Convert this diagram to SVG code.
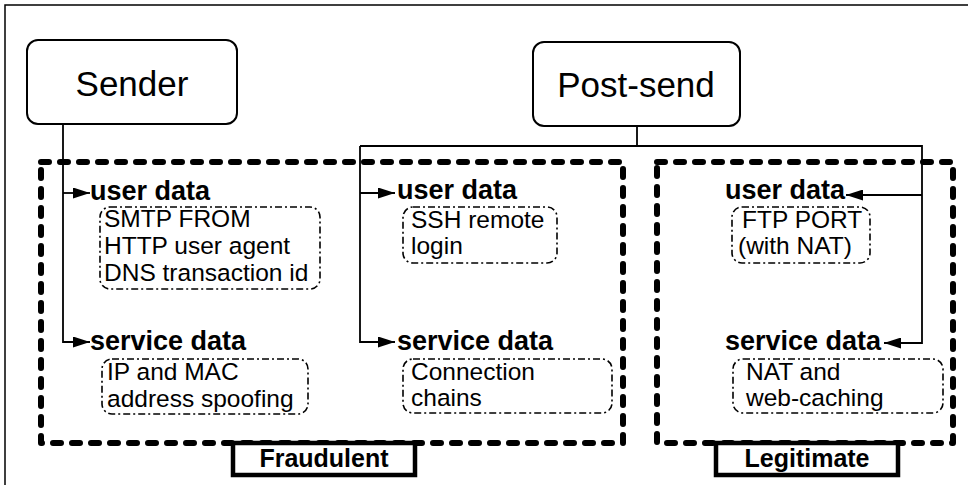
<svg xmlns="http://www.w3.org/2000/svg" width="968" height="485" viewBox="0 0 968 485">
<style>
text{font-family:"Liberation Sans",Arial,sans-serif;fill:#000}
.big{font-size:35px}
.head{font-size:27px;font-weight:bold}
.item{font-size:24.5px}
.lab{font-size:25px;font-weight:bold}
.node{fill:#fff;stroke:#000;stroke-width:2}
.grp{fill:none;stroke:#000;stroke-width:6;stroke-dasharray:8 11;stroke-linecap:round;stroke-linejoin:round}
.sub{fill:none;stroke:#000;stroke-width:1.6;stroke-dasharray:7 3 2 3}
.labbox{fill:#fff;stroke:#000;stroke-width:4.5}
.conn{fill:none;stroke:#000;stroke-width:1.8}
</style>
<defs>
<marker id="ah" viewBox="0 0 17 11" refX="17" refY="5.5" markerWidth="17" markerHeight="11" markerUnits="userSpaceOnUse" orient="auto">
<path d="M0,0 L17,5.5 L0,11 Z" fill="#000"/>
</marker>
</defs>
<rect width="968" height="485" fill="#fff"/>
<path d="M5,485 V5 H968" fill="none" stroke="#000" stroke-width="1.5"/>

<g id="fraudulent-group">
<rect class="grp" x="41" y="162" width="582" height="281"/>
</g>
<g id="legitimate-group">
<rect class="grp" x="657" y="162" width="296" height="281"/>
</g>

<g id="connectors">
<path class="conn" d="M63,124 V342 H90" marker-end="url(#ah)"/>
<path class="conn" d="M63,193 H90" marker-end="url(#ah)"/>
<path class="conn" d="M637,126 V146"/>
<path class="conn" d="M360,146 H922 V343 H884" marker-end="url(#ah)"/>
<path class="conn" d="M360,146 V342 H395" marker-end="url(#ah)"/>
<path class="conn" d="M360,193 H395" marker-end="url(#ah)"/>
<path class="conn" d="M922,195 H846" marker-end="url(#ah)"/>
</g>

<g id="sender">
<rect class="node" x="27" y="40" width="210" height="84" rx="11"/>
<text class="big" x="132" y="96" text-anchor="middle">Sender</text>
</g>
<g id="post-send">
<rect class="node" x="533" y="42" width="207" height="84" rx="11"/>
<text class="big" x="636" y="97" text-anchor="middle">Post-send</text>
</g>

<g id="fraud-user">
<text class="head" x="90" y="200">user data</text>
<rect class="sub" x="100" y="207" width="220" height="82" rx="10"/>
<text class="item" x="104" y="227">SMTP FROM</text>
<text class="item" x="104" y="254">HTTP user agent</text>
<text class="item" x="104" y="281">DNS transaction id</text>
</g>
<g id="fraud-service">
<text class="head" x="90" y="350">service data</text>
<rect class="sub" x="102" y="359" width="206" height="55" rx="10"/>
<text class="item" x="107" y="380">IP and MAC</text>
<text class="item" x="107" y="407">address spoofing</text>
</g>
<g id="post-user">
<text class="head" x="397" y="199">user data</text>
<rect class="sub" x="403" y="207" width="154" height="56" rx="10"/>
<text class="item" x="411" y="228">SSH remote</text>
<text class="item" x="411" y="254">login</text>
</g>
<g id="post-service">
<text class="head" x="397" y="350">service data</text>
<rect class="sub" x="403" y="359" width="209" height="54" rx="10"/>
<text class="item" x="411" y="380">Connection</text>
<text class="item" x="411" y="406">chains</text>
</g>
<g id="legit-user">
<text class="head" x="725" y="199">user data</text>
<rect class="sub" x="732" y="207" width="138" height="56" rx="10"/>
<text class="item" x="742" y="228">FTP PORT</text>
<text class="item" x="738" y="254">(with NAT)</text>
</g>
<g id="legit-service">
<text class="head" x="725" y="350">service data</text>
<rect class="sub" x="733" y="359" width="210" height="54" rx="10"/>
<text class="item" x="746" y="380">NAT and</text>
<text class="item" x="746" y="406">web-caching</text>
</g>

<g id="label-fraudulent">
<rect class="labbox" x="233" y="443" width="182" height="32"/>
<text class="lab" x="324" y="467" text-anchor="middle">Fraudulent</text>
</g>
<g id="label-legitimate">
<rect class="labbox" x="716" y="443" width="182" height="32"/>
<text class="lab" x="807" y="467" text-anchor="middle">Legitimate</text>
</g>
</svg>
